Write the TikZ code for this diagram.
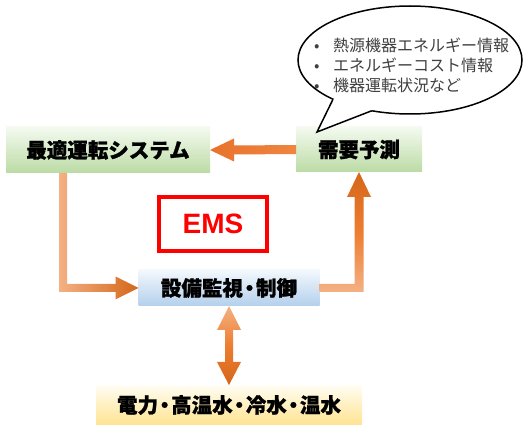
\documentclass[tikz,border=0pt]{standalone}
\usepackage{fontspec}
\setmainfont{Liberation Sans}
\newfontfamily\jp{Noto Sans CJK JP}[BoldFeatures={FakeBold=1.2}]
\usetikzlibrary{calc,shapes.geometric}
\definecolor{gtop}{HTML}{F4FAF0}
\definecolor{gbot}{HTML}{BBDBA4}
\definecolor{btop}{HTML}{F3F8FD}
\definecolor{bbot}{HTML}{B3D0EC}
\definecolor{ytop}{HTML}{FFFDF4}
\definecolor{ybot}{HTML}{FFE390}
\definecolor{lor}{HTML}{F4B183}
\definecolor{mor}{HTML}{ED7D31}
\definecolor{dor}{HTML}{D4661A}
\definecolor{arrA}{HTML}{E8722C}
\definecolor{arrB}{HTML}{EF8540}
\definecolor{txtgray}{HTML}{404040}
\newcommand{\ndot}{\kern-0.18em・\kern-0.18em}
\tikzset{
  boxbase/.style={inner sep=0pt, outer sep=0pt, font=\jp\bfseries\fontsize{20.5}{24}\selectfont, text=black},
  gbox/.style={boxbase, top color=gtop, bottom color=gbot},
  bbox/.style={boxbase, top color=btop, bottom color=bbot},
  ybox/.style={boxbase, top color=ytop, bottom color=ybot},
  emsbox/.style={draw=red, line width=4pt, text=red, font=\bfseries\fontsize{28}{30}\selectfont, minimum width=108pt, minimum height=54pt, inner sep=0pt},
  bubline/.style={draw=black, line width=1.5pt, line join=miter},
}
\begin{document}
\begin{tikzpicture}[x=1pt,y=-1pt]
\useasboundingbox (0,0) rectangle (523,425);

\node[gbox, minimum width=204pt, minimum height=46pt] (opt) at (108,150) {最適運転システム};
\node[gbox, minimum width=126pt, minimum height=45pt] (dem) at (359,149.5) {需要予測};
\node[bbox, minimum width=181pt, minimum height=36pt] (ctrl) at (229,288) {設備監視\ndot 制御};
\node[ybox, minimum width=266pt, minimum height=40pt] (util) at (229,405) {電力\ndot 高温水\ndot 冷水\ndot 温水};
\node[emsbox] (ems) at (213,224) {EMS};

% demand -> optimum
\path[left color=arrA, right color=arrB]
  (opt.east) -- ++(24,-11.5) -- ++(0,7) -- ($(dem.west)+(0,-4.5)$) -- ($(dem.west)+(0,4.5)$)
  -- ($(opt.east)+(24,4.5)$) -- ++(0,7) -- cycle;

% optimum -> control
\coordinate (e1) at ($(opt.south west)+(57,0)$);
\coordinate (c1) at (e1 |- ctrl.west);
\path[left color=lor, right color=dor]
  ($(e1)+(-4,0)$) -- ($(e1)+(4,0)$) -- ($(c1)+(4,-4)$) -- ($(ctrl.west)+(-23,-4)$) -- ++(0,-7.5)
  -- (ctrl.west) -- ($(ctrl.west)+(-23,11.5)$) -- ++(0,-7.5) -- ($(c1)+(-4,4)$) -- cycle;

% control -> demand
\coordinate (c2) at (dem.south |- ctrl.east);
\path[bottom color=lor, top color=dor, middle color=mor]
  ($(ctrl.east)+(0,-4)$) -- ($(c2)+(-4.5,-4)$) -- ($(dem.south)+(-4.5,25)$) -- ++(-7.5,0)
  -- (dem.south) -- ($(dem.south)+(12,25)$) -- ++(-7.5,0) -- ($(c2)+(4.5,4)$)
  -- ($(ctrl.east)+(0,4)$) -- cycle;

% control <-> utilities
\path[top color=lor, bottom color=dor, middle color=mor]
  (ctrl.south) -- ++(12,24) -- ++(-8,0) -- ($(util.north)+(4,-23)$) -- ++(8,0)
  -- (util.north) -- ($(util.north)+(-12,-23)$) -- ++(8,0) -- ($(ctrl.south)+(-4,24)$)
  -- ++(-8,0) -- cycle;

% speech bubble
\node[ellipse, bubline, fill=white, minimum width=224pt, minimum height=108pt,
      inner sep=0pt, outer sep=0pt] (bub) at (410,60) {};
\coordinate (tip) at ($(dem.north west)+(21,5)$);
\coordinate (ta) at (bub.207.6);
\coordinate (tb) at (bub.233.2);
\fill[white] (tip) -- (ta)
  -- ($(bub.center)!0.88!(bub.208)$) -- ($(bub.center)!0.88!(bub.215)$)
  -- ($(bub.center)!0.88!(bub.222)$) -- ($(bub.center)!0.88!(bub.229)$)
  -- ($(bub.center)!0.88!(bub.233)$) -- (tb) -- cycle;
\draw[bubline] (ta) -- (tip) -- (tb);
\node[anchor=west, align=left, inner sep=0pt, text=txtgray,
      font=\jp\fontsize{16}{20}\selectfont] (btext) at (314,65)
  {\makebox[19pt][l]{•}熱源機器エネルギー情報\\
   \makebox[19pt][l]{•}エネルギーコスト情報\\
   \makebox[19pt][l]{•}機器運転状況など};
\end{tikzpicture}
\end{document}
